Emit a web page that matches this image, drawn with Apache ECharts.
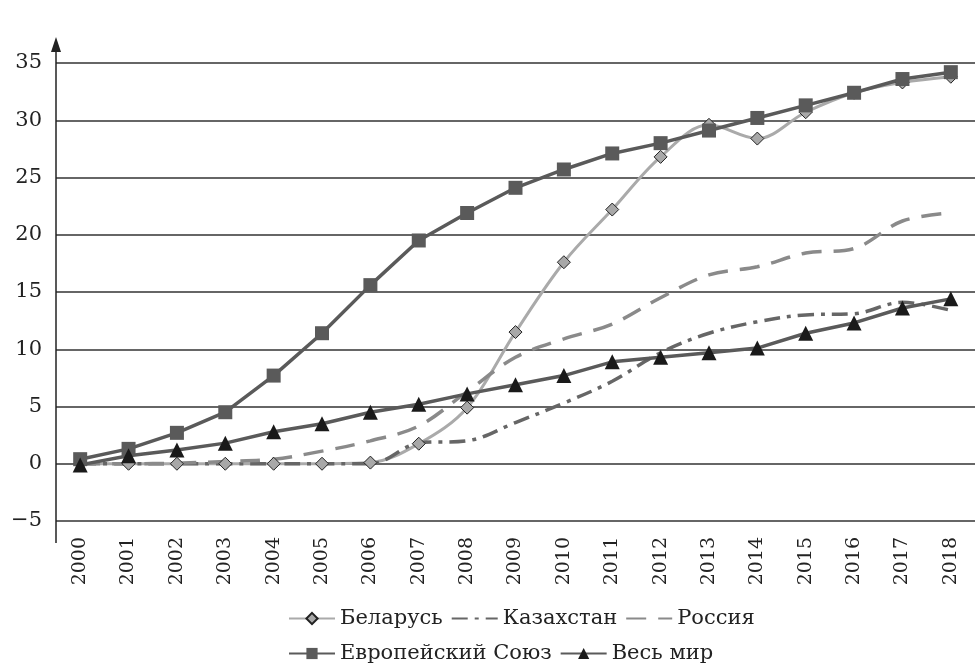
<!DOCTYPE html>
<html>
<head>
<meta charset="utf-8">
<script src="https://cdn.jsdelivr.net/npm/echarts@6/dist/echarts.min.js"></script>
<style>
  html, body { margin: 0; padding: 0; background: #fff; }
  #chart { width: 975px; height: 664px; }
</style>
</head>
<body>
<div id="chart"></div>
<script>
// годы
const years = ['2000','2001','2002','2003','2004','2005','2006','2007','2008','2009',
  '2010','2011','2012','2013','2014','2015','2016','2017','2018'];

const belarus = [0, 0, 0, 0, 0, 0, 0.1, 1.75, 4.9, 11.5, 17.6, 22.2, 26.8, 29.6, 28.4, 30.7, 32.4, 33.3, 33.8];
const kazakhstan = [0, 0, 0, 0, 0, 0, 0, 1.8, 2.0, 3.6, 5.3, 7.2, 9.7, 11.4, 12.4, 13.0, 13.1, 14.1, 13.4];
const russia = [0, 0, 0.05, 0.2, 0.4, 1.1, 2.0, 3.3, 6.3, 9.3, 10.9, 12.2, 14.5, 16.5, 17.2, 18.4, 18.8, 21.2, 21.9];
const eu = [0.4, 1.3, 2.7, 4.5, 7.7, 11.4, 15.6, 19.5, 21.9, 24.1, 25.7, 27.1, 28.0, 29.1, 30.2, 31.3, 32.4, 33.6, 34.2];
const world = [-0.1, 0.7, 1.2, 1.8, 2.8, 3.5, 4.5, 5.2, 6.1, 6.9, 7.7, 8.9, 9.3, 9.7, 10.1, 11.4, 12.3, 13.6, 14.4];

const font = 'DejaVu Serif';
const chart = echarts.init(document.getElementById('chart'));

const legendText = { fontFamily: font, fontSize: 21, color: '#222' };
// у линий без маркеров в легенде маркер не нужен
const noMarker = { opacity: 0 };

chart.setOption({
  animation: false,
  backgroundColor: '#fff',
  grid: { left: 56, right: -8, top: 63, bottom: 143 },
  xAxis: {
    type: 'category',
    data: years,
    boundaryGap: true,
    axisLine: { show: false },
    axisTick: { show: false },
    axisLabel: {
      rotate: 90,
      margin: 16,
      color: '#222',
      fontFamily: font,
      fontSize: 19,
      interval: 0
    }
  },
  yAxis: {
    type: 'value',
    min: -5,
    max: 35,
    interval: 5,
    axisLine: { show: false },
    axisTick: { show: false },
    axisLabel: {
      margin: 14,
      color: '#222',
      fontFamily: font,
      fontSize: 21,
      formatter: v => (v < 0 ? '\u2212' + Math.abs(v) : String(v))
    },
    splitLine: { lineStyle: { color: '#333', width: 1.5 } }
  },
  legend: [
    {
      data: [
        'Беларусь',
        { name: 'Казахстан', itemStyle: noMarker },
        { name: 'Россия', itemStyle: noMarker }
      ],
      left: 283, top: 603,
      itemWidth: 46, itemHeight: 14, itemGap: 8,
      textStyle: legendText,
      selectedMode: false
    },
    {
      data: ['Европейский Союз', 'Весь мир'],
      left: 283, top: 638,
      itemWidth: 46, itemHeight: 14, itemGap: 8,
      textStyle: legendText,
      selectedMode: false
    }
  ],
  graphic: [
    // вертикальная ось со стрелкой
    { type: 'line', shape: { x1: 56, y1: 543, x2: 56, y2: 48 }, style: { stroke: '#222', lineWidth: 1.5 }, z: 10 },
    { type: 'polygon', shape: { points: [[56, 37], [51, 52], [61, 52]] }, style: { fill: '#222' }, z: 10 }
  ],
  series: [
    {
      name: 'Беларусь', type: 'line', data: belarus, smooth: 0.35,
      symbol: 'diamond', symbolSize: 13,
      lineStyle: { color: '#aaaaaa', width: 3 },
      itemStyle: { color: '#a8a8a8', borderColor: '#222', borderWidth: 1 }
    },
    {
      name: 'Казахстан', type: 'line', data: kazakhstan, smooth: 0.35,
      symbol: 'none',
      lineStyle: { color: '#666666', width: 3.5, type: [16, 7, 4, 7] },
      itemStyle: { color: '#666666' }
    },
    {
      name: 'Россия', type: 'line', data: russia, smooth: 0.35,
      symbol: 'none',
      lineStyle: { color: '#8a8a8a', width: 3.5, type: [20, 12] },
      itemStyle: { color: '#8a8a8a' }
    },
    {
      name: 'Европейский Союз', type: 'line', data: eu,
      symbol: 'rect', symbolSize: 14,
      lineStyle: { color: '#5a5a5a', width: 3.5 },
      itemStyle: { color: '#5a5a5a' }
    },
    {
      name: 'Весь мир', type: 'line', data: world,
      symbol: 'triangle', symbolSize: 15,
      lineStyle: { color: '#5a5a5a', width: 3.5 },
      itemStyle: { color: '#1a1a1a' }
    }
  ]
});
</script>
</body>
</html>
